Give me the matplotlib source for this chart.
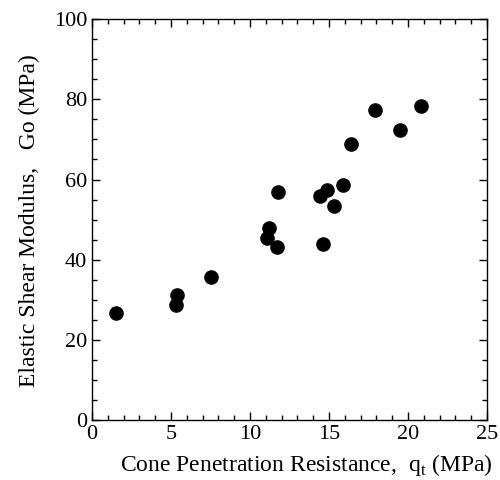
import matplotlib
matplotlib.use("Agg")
import matplotlib.pyplot as plt
from matplotlib.ticker import MultipleLocator

plt.rcParams['font.family'] = ['Liberation Serif', 'DejaVu Serif']
plt.rcParams['mathtext.fontset'] = 'custom'
plt.rcParams['mathtext.rm'] = 'Liberation Serif'

qc = [1.5, 5.3, 5.4, 7.5, 11.1, 11.2, 11.7, 11.8, 14.4, 14.9, 14.6, 15.3, 15.9, 16.4, 17.9, 19.5, 20.8]
go = [26.8, 28.7, 31.2, 35.6, 45.4, 47.9, 43.1, 56.8, 55.8, 57.3, 43.9, 53.3, 58.7, 68.9, 77.3, 72.4, 78.3]

xticks = [0, 5, 10, 15, 20, 25]
yticks = [0, 20, 40, 60, 80, 100]

fig = plt.figure(figsize=(5, 4.8), dpi=100)
ax = fig.add_axes([0.184, 0.125, 0.79, 0.835])
ax.plot(qc, go, 'o', color='black', markersize=9.5, linestyle='none')
ax.set_xlim(0, 25)
ax.set_ylim(0, 100)
ax.set_xticks(xticks)
ax.set_yticks(yticks)
ax.xaxis.set_minor_locator(MultipleLocator(1))
ax.yaxis.set_minor_locator(MultipleLocator(5))
ax.tick_params(which='both', direction='in', top=True, right=True, labelsize=16, width=1)
ax.tick_params(which='major', length=6)
ax.tick_params(which='minor', length=3.5)
for s in ax.spines.values():
    s.set_linewidth(1)
ax.set_xlabel('Cone Penetration Resistance,  q$_\\mathregular{t}$ (MPa)', fontsize=17)
ax.set_ylabel('Elastic Shear Modulus,   Go (MPa)', fontsize=17)
ax.xaxis.set_label_coords(0.542, -0.081)
ax.yaxis.set_label_coords(-0.132, 0.497)
fig.savefig('out.png', dpi=100)
